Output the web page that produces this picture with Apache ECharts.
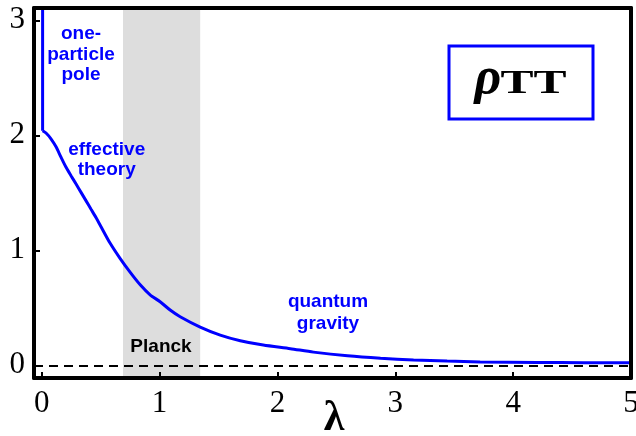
<!DOCTYPE html>
<html>
<head>
<meta charset="utf-8">
<script src="https://cdn.jsdelivr.net/npm/echarts@6/dist/echarts.min.js"></script>
<style>
  html, body { margin: 0; padding: 0; background: #ffffff; }
  #chart { width: 636px; height: 436px; }
</style>
</head>
<body>
<div id="chart"></div>
<script>
// Spectral density rho_TT as a function of lambda
const lambdaVals = [0.008, 0.037, 0.079, 0.122, 0.164, 0.207, 0.249, 0.292, 0.334, 0.377, 0.419, 0.462, 0.50, 0.58, 0.665, 0.75, 0.836, 0.92, 1.005, 1.09, 1.175, 1.345, 1.515, 1.685, 1.88, 2.11, 2.306, 2.595, 2.875, 3.155, 3.44, 3.72, 4.2, 4.6, 5.0];
const rhoVals    = [2.04, 2.02, 1.97, 1.90, 1.81, 1.722, 1.649, 1.576, 1.504, 1.43, 1.357, 1.283, 1.212, 1.063, 0.93, 0.81, 0.70, 0.613, 0.553, 0.481, 0.423, 0.333, 0.263, 0.214, 0.176, 0.145, 0.115, 0.083, 0.062, 0.047, 0.037, 0.030, 0.025, 0.023, 0.022];

// one-particle pole: vertical spike at lambda ~ 0
const poleLambda = [0.008, 0.008];
const poleRho    = [2.04, 3.5];

// Planck region
const planckBand = [0.69, 1.345];

const xTicks = [0, 1, 2, 3, 4, 5];
const yTicks = [0, 1, 2, 3];
const xRange = [-0.065, 5.0];
const yRange = [-0.11, 3.107];

const blue = '#0000ff';
const serif = '"Liberation Serif", "DejaVu Serif", serif';
const sans = '"Liberation Sans", Arial, sans-serif';

const chart = echarts.init(document.getElementById('chart'), null, { renderer: 'canvas' });

const frameLine = { show: true, onZero: false, lineStyle: { color: '#000', width: 4 } };

chart.setOption({
  animation: false,
  backgroundColor: '#ffffff',
  grid: { left: 34, right: 5, top: 8, bottom: 58, containLabel: false, outerBoundsMode: 'none' },
  xAxis: [
    {
      type: 'value', min: xRange[0], max: xRange[1], position: 'bottom', z: 10,
      axisLine: frameLine,
      splitLine: { show: false },
      axisTick: { show: true, inside: true, length: 6, customValues: xTicks, lineStyle: { color: '#000', width: 2 } },
      axisLabel: { show: true, customValues: xTicks, margin: 10, color: '#000', fontFamily: serif, fontSize: 31 }
    },
    {
      type: 'value', min: xRange[0], max: xRange[1], position: 'top', z: 10,
      axisLine: frameLine, splitLine: { show: false },
      axisTick: { show: false }, axisLabel: { show: false }
    }
  ],
  yAxis: [
    {
      type: 'value', min: yRange[0], max: yRange[1], position: 'left', z: 10,
      axisLine: frameLine,
      splitLine: { show: false },
      axisTick: { show: true, inside: true, length: 6, customValues: yTicks, lineStyle: { color: '#000', width: 2 } },
      axisLabel: { show: true, customValues: yTicks, margin: 9, color: '#000', fontFamily: serif, fontSize: 31 }
    },
    {
      type: 'value', min: yRange[0], max: yRange[1], position: 'right', z: 10,
      axisLine: frameLine, splitLine: { show: false },
      axisTick: { show: false }, axisLabel: { show: false }
    }
  ],
  series: [
    {
      name: 'Planck', type: 'line', z: 1, data: [], silent: true,
      markArea: {
        silent: true,
        itemStyle: { color: '#dddddd' },
        data: [[{ xAxis: planckBand[0] }, { xAxis: planckBand[1] }]]
      },
      markLine: {
        silent: true, symbol: 'none', label: { show: false },
        lineStyle: { color: '#000', width: 2, type: [9, 6] },
        data: [{ yAxis: 0 }]
      }
    },
    {
      name: 'pole', type: 'line', z: 3, symbol: 'none', clip: true,
      lineStyle: { color: blue, width: 3 },
      data: poleLambda.map((x, i) => [x, poleRho[i]])
    },
    {
      name: 'rho', type: 'line', z: 3, symbol: 'none', smooth: 0.25, clip: true,
      lineStyle: { color: blue, width: 3 },
      data: lambdaVals.map((x, i) => [x, rhoVals[i]])
    }
  ],
  graphic: [
    // axis title
    { type: 'text', x: 334, y: 419, z: 20,
      style: { text: 'λ', fill: '#000', font: 'bold 42px ' + serif, align: 'center', verticalAlign: 'middle' } },
    // region annotations
    { type: 'text', x: 81, y: 54.5, z: 20,
      style: { text: 'one-\nparticle\npole', fill: blue, font: 'bold 19px ' + sans, align: 'center', verticalAlign: 'middle', lineHeight: 20.5 } },
    { type: 'text', x: 106.7, y: 160, z: 20,
      style: { text: 'effective\ntheory', fill: blue, font: 'bold 19px ' + sans, align: 'center', verticalAlign: 'middle', lineHeight: 20.5 } },
    { type: 'text', x: 328, y: 313, z: 20,
      style: { text: 'quantum\ngravity', fill: blue, font: 'bold 19px ' + sans, align: 'center', verticalAlign: 'middle', lineHeight: 22 } },
    { type: 'text', x: 161, y: 346.5, z: 20,
      style: { text: 'Planck', fill: '#000', font: 'bold 19px ' + sans, align: 'center', verticalAlign: 'middle' } },
    // legend box
    { type: 'rect', z: 20,
      shape: { x: 449, y: 46, width: 144, height: 73 },
      style: { fill: '#ffffff', stroke: blue, lineWidth: 3 } },
    { type: 'text', x: 488, y: 80, z: 21,
      style: { text: 'ρ', fill: '#000', font: 'italic bold 52px ' + serif, align: 'center', verticalAlign: 'middle' } },
    { type: 'text', x: 533.5, y: 84, z: 21, scaleX: 1.5, originX: 0, originY: 0,
      style: { text: 'TT', fill: '#000', font: 'bold 33px ' + serif, align: 'center', verticalAlign: 'middle' } }
  ]
});
</script>
</body>
</html>
